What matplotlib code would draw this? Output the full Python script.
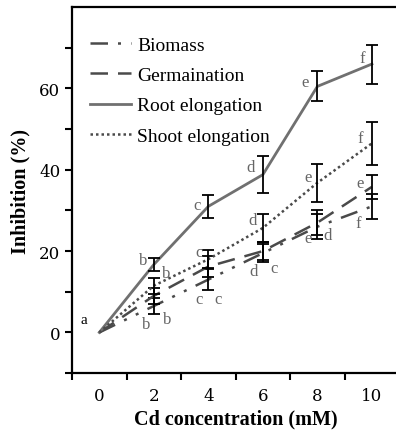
import matplotlib.pyplot as plt

plt.rcParams['font.family'] = ['Liberation Serif', 'DejaVu Serif']

conc = [0, 2, 4, 6, 8, 10]
x_labels = ['0', '2', '4', '6', '8', '10']

biomass = [0, 6.5, 13.0, 19.5, 26.0, 31.0]
biomass_err = [0, 2.0, 2.5, 2.3, 3.0, 3.0]
germ = [0, 9.0, 16.2, 20.0, 27.0, 35.8]
germ_err = [0, 2.0, 2.5, 2.3, 3.0, 3.0]
root = [0, 16.7, 31.0, 38.8, 60.5, 66.0]
root_err = [0, 1.7, 2.8, 4.5, 3.7, 4.8]
shoot = [0, 11.5, 18.0, 25.7, 36.8, 46.5]
shoot_err = [0, 2.0, 2.2, 3.5, 4.7, 5.3]

# significance letters (letter, x, y)
root_letters = [('b', 1.6, 17.9), ('c', 3.6, 31.4), ('d', 5.55, 40.7),
                ('e', 7.55, 61.6), ('f', 9.64, 67.5)]
shoot_letters = [('b', 2.45, 14.7), ('c', 3.65, 19.9), ('d', 5.62, 27.7),
                 ('e', 7.66, 38.3), ('f', 9.56, 47.9)]
germ_letters = [('b', 2.48, 3.2), ('c', 4.34, 8.3), ('d', 5.66, 15.2),
                ('e', 7.66, 23.3), ('e', 9.56, 36.8)]
bio_letters = [('b', 1.72, 2.0), ('c', 3.65, 8.3), ('c', 6.4, 15.9),
               ('d', 8.36, 24.0), ('f', 9.5, 27.0)]

fig = plt.figure(figsize=(3.96, 4.35), dpi=100)
ax = fig.add_axes([0.182, 0.140, 0.826, 0.8414])

series = [
    ('Biomass', biomass, biomass_err, '#4a4a4a', (0, (7, 4, 1.2, 4, 1.2, 4)), 1.8),
    ('Germaination', germ, germ_err, '#4a4a4a', (0, (7, 4)), 1.8),
    ('Root elongation', root, root_err, '#707070', '-', 2.0),
    ('Shoot elongation', shoot, shoot_err, '#4a4a4a', (0, (1, 1.2)), 1.8),
]
for name, vals, err, col, ls, lw in series:
    ax.plot(conc, vals, color=col, linestyle=ls, linewidth=lw, label=name)
    ax.errorbar(conc[1:], vals[1:], yerr=err[1:], fmt='none', ecolor='black',
                elinewidth=1.3, capsize=4.5, capthick=1.3)

for group in (root_letters, shoot_letters, germ_letters, bio_letters):
    for s, lx, ly in group:
        ax.text(lx, ly, s, color='#666666', fontsize=12, ha='center', va='center')
ax.text(-0.58, 3.2, 'a', color='black', fontsize=11, ha='center', va='center')

ax.set_xlim(-1, 11)
ax.set_ylim(-10, 80)
ax.set_xticks([-1, 1, 3, 5, 7, 9])
ax.set_xticklabels([])
ax.set_xticks(conc, minor=True)
ax.set_xticklabels(x_labels, minor=True, fontsize=12, family='DejaVu Serif')
ax.tick_params(axis='x', which='minor', length=0, pad=10)
ax.tick_params(axis='x', which='major', length=5, width=1.5, direction='out')
ax.set_yticks([0, 20, 40, 60])
ax.set_yticklabels(['0', '20', '40', '60'], fontsize=12, family='DejaVu Serif')
ax.set_yticks([-10, 10, 30, 50, 70], minor=True)
ax.tick_params(axis='y', which='both', length=5, width=1.5, direction='out')

for sp in ax.spines.values():
    sp.set_linewidth(1.6)

ax.set_xlabel('Cd concentration (mM)', fontsize=14.5, fontweight='bold', labelpad=3)
ax.set_ylabel('Inhibition (%)', fontsize=14.5, fontweight='bold', labelpad=6)

ax.legend(loc='upper left', frameon=False, fontsize=14, handlelength=2.15,
          handletextpad=0.3, labelspacing=0.65, bbox_to_anchor=(0.0, 0.968))

fig.savefig('out.png', dpi=100)
